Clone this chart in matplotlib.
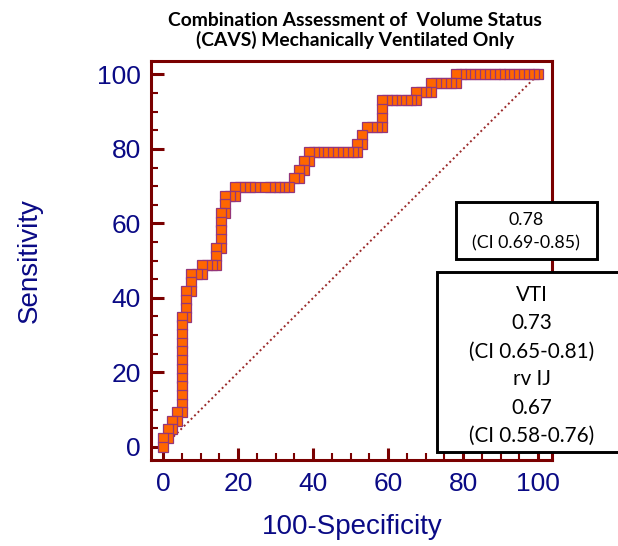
import matplotlib
matplotlib.use("Agg")
import matplotlib.pyplot as plt
from matplotlib.patches import Rectangle

# ROC points (100-Specificity, Sensitivity), row by row
fpr = [0,
       0, 1.2,
       1.2, 2.4,
       2.4, 3.7,
       3.7, 4.9,
       4.9, 4.9, 4.9, 4.9, 4.9, 4.9, 4.9, 4.9, 4.9, 4.9,
       4.9, 6.1,
       6.1, 6.1,
       6.1, 7.5,
       7.5,
       7.5, 8.9, 10.3,
       10.3, 11.6, 12.9, 14.2,
       14.2,
       14.2, 15.5,
       15.5, 15.5, 15.5,
       15.5, 16.6,
       16.6,
       16.6, 17.8, 19.1,
       19.2, 20.5, 21.9, 23.2, 24.6, 27.1, 28.4, 29.7, 30.9, 32.2, 33.5,
       34.8, 36.1,
       36.1, 37.5,
       37.5, 38.8,
       38.8, 40.1, 41.4, 42.7, 44.0, 45.3, 46.6, 47.9, 49.2, 50.5, 51.7,
       51.7, 53.0,
       53.0,
       54.4, 55.7, 57.0, 58.4,
       58.4, 58.4,
       58.4, 59.7, 61.0, 62.2, 63.5, 64.9, 66.2, 67.5,
       67.5, 68.7, 70.1, 71.4,
       71.4, 72.7, 74.0, 75.4, 76.7, 78.0,
       78.0, 79.3, 80.6, 81.9, 83.2, 84.5, 85.8, 87.1, 88.4, 89.7,
       91.0, 92.3, 93.6, 94.9, 96.2, 97.5, 98.8, 100]
sens = [0,
        2.3, 2.3,
        4.7, 4.7,
        7.0, 7.0,
        9.3, 9.3,
        11.6, 14.0, 16.3, 18.6, 20.9, 23.3, 25.6, 27.9, 30.2, 32.6,
        34.9, 34.9,
        37.2, 39.5,
        41.9, 41.9,
        44.2,
        46.5, 46.5, 46.5,
        48.8, 48.8, 48.8, 48.8,
        51.2,
        53.5, 53.5,
        55.8, 58.1, 60.5,
        62.8, 62.8,
        65.1,
        67.4, 67.4, 67.4,
        69.8, 69.8, 69.8, 69.8, 69.8, 69.8, 69.8, 69.8, 69.8, 69.8, 69.8,
        72.1, 72.1,
        74.4, 74.4,
        76.7, 76.7,
        79.1, 79.1, 79.1, 79.1, 79.1, 79.1, 79.1, 79.1, 79.1, 79.1, 79.1,
        81.4, 81.4,
        83.7,
        86.0, 86.0, 86.0, 86.0,
        88.4, 90.7,
        93.0, 93.0, 93.0, 93.0, 93.0, 93.0, 93.0, 93.0,
        95.3, 95.3, 95.3, 95.3,
        97.7, 97.7, 97.7, 97.7, 97.7, 97.7,
        100, 100, 100, 100, 100, 100, 100, 100, 100, 100,
        100, 100, 100, 100, 100, 100, 100, 100]

ticks = [0, 20, 40, 60, 80, 100]
title_lines = ["Combination Assessment of  Volume Status",
               "(CAVS) Mechanically Ventilated Only"]
auc_main = ["0.78", "(CI 0.69-0.85)"]
auc_other = ["VTI", "0.73", "(CI 0.65-0.81)", "rv IJ", "0.67", "(CI 0.58-0.76)"]

W, H = 618, 546
navy = "#0a0a85"
dark_red = "#7a0000"

plt.rcParams["font.family"] = ["Liberation Sans", "DejaVu Sans"]

fig = plt.figure(figsize=(W / 100, H / 100), dpi=100)
ax = fig.add_axes([150.5 / W, 1 - 459.5 / H, 401.2 / W, 398.5 / H])

ax.set_xlim(-3.4, 103.6)
ax.set_ylim(-3.4, 103.6)
ax.set_xticks(ticks)
ax.set_yticks(ticks)
ax.set_xticks(range(0, 101, 5), minor=True)
ax.set_yticks(range(0, 101, 5), minor=True)

for s in ax.spines.values():
    s.set_color(dark_red)
    s.set_linewidth(2.2)

ax.tick_params(axis="x", which="major", direction="in", length=9, width=2.2,
               color=dark_red, labelsize=19, labelcolor=navy, pad=9)
ax.tick_params(axis="y", which="major", direction="in", length=9, width=2.2,
               color=dark_red, labelsize=19, labelcolor=navy, pad=7)
ax.tick_params(which="minor", direction="in", length=5, width=1.5, color=dark_red)

ax.plot([0, 100], [0, 100], linestyle=(0, (1, 1.5)), color="#9a2a2a", lw=1.4, zorder=1)
# earlier points sit on top of later ones in the reference
ax.plot(fpr[::-1], sens[::-1], linestyle="none", marker="s", markersize=6.6,
        markerfacecolor="#ff6600", markeredgecolor="#94367a", markeredgewidth=0.9,
        zorder=2)

ax.set_xlabel("100-Specificity", fontsize=20, color=navy, va="center")
ax.xaxis.set_label_coords((352 - 150.5) / 401.2, (459.5 - 527) / 398.5)
ax.set_ylabel("Sensitivity", fontsize=20, color=navy, va="center")
ax.yaxis.set_label_coords((30 - 150.5) / 401.2, 0.5)

# title
fig.text(355 / W, 1 - 20 / H, title_lines[0], ha="center", va="center",
         fontsize=13.9, weight="bold", family="Lato")
fig.text(355.5 / W, 1 - 40 / H, title_lines[1], ha="center", va="center",
         fontsize=13.9, weight="bold", family="Lato")

# AUC boxes
fig.add_artist(Rectangle((455.7 / W, 1 - 259 / H), (596.7 - 455.7) / W, (259 - 201.7) / H,
                         transform=fig.transFigure, facecolor="white", edgecolor="black",
                         lw=2.1, zorder=5))
fig.add_artist(Rectangle((437.5 / W, 1 - 452 / H), (650 - 437.5) / W, (452 - 271.7) / H,
                         transform=fig.transFigure, facecolor="white", edgecolor="black",
                         lw=2.1, zorder=5, clip_on=False))

for txt, y in zip(auc_main, [220, 243]):
    fig.text(526 / W, 1 - y / H, txt, ha="center", va="center", fontsize=12.8,
             family="Lato", zorder=6)
for txt, y in zip(auc_other, [295, 322.7, 351.7, 379.3, 408.3, 436]):
    fig.text(531.7 / W, 1 - y / H, txt, ha="center", va="center", fontsize=14.9,
             family="Lato", zorder=6)

fig.savefig("out.png", dpi=100)
